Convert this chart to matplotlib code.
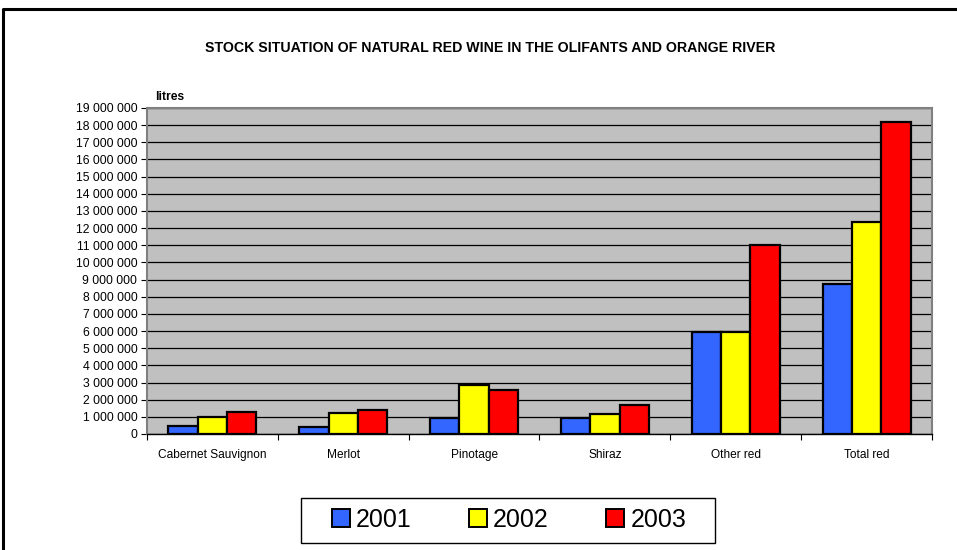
import numpy as np
import matplotlib
matplotlib.use("Agg")
from matplotlib import pyplot as plt
from matplotlib.patches import Rectangle
from matplotlib.lines import Line2D

plt.rcParams["font.family"] = ["Liberation Sans", "DejaVu Sans"]

categories = ["Cabernet Sauvignon", "Merlot", "Pinotage", "Shiraz", "Other red", "Total red"]
years = ["2001", "2002", "2003"]
stock_2001 = [470000, 430000, 930000, 940000, 5950000, 8770000]
stock_2002 = [980000, 1210000, 2880000, 1180000, 5950000, 12370000]
stock_2003 = [1310000, 1410000, 2560000, 1700000, 11030000, 18200000]
bar_colors = ["#3366FF", "#FFFF00", "#FF0000"]

fig = plt.figure(figsize=(9.57, 5.5), dpi=100)
ax = fig.add_axes([147 / 957, 1 - 434 / 550, (932 - 147) / 957, (434 - 108) / 550])
ax.set_facecolor("#C0C0C0")

x = np.arange(len(categories))
width = 0.224
for i, (vals, col) in enumerate(zip([stock_2001, stock_2002, stock_2003], bar_colors)):
    ax.bar(x + (i - 1) * width, vals, width, color=col, edgecolor="black",
           linewidth=1.6, zorder=3, label=years[i])

ax.set_xlim(-0.5, len(categories) - 0.5)
ax.set_ylim(0, 19000000)
yt = np.arange(0, 19000001, 1000000)
ax.set_yticks(yt)
ax.set_yticklabels(["0" if v == 0 else f"{v:,}".replace(",", " ") for v in yt], fontsize=8.8)
ax.yaxis.grid(True, color="black", linewidth=0.9, zorder=1)
ax.set_axisbelow(True)

ax.set_xticks(x)
ax.set_xticklabels(categories, fontsize=8.6)
ax.tick_params(axis="x", length=0, pad=11)
ax.tick_params(axis="y", length=4, width=0.8, pad=3)
ax.set_xticks(np.arange(-0.5, len(categories), 1), minor=True)
ax.tick_params(axis="x", which="minor", length=4, width=0.8, direction="out")

for side in ["top", "right", "left"]:
    ax.spines[side].set_color("#808080")
    ax.spines[side].set_linewidth(1.5)
ax.spines["bottom"].set_color("black")
ax.spines["bottom"].set_linewidth(1.0)

fig.text(490 / 957, 1 - 48 / 550, "STOCK SITUATION OF NATURAL RED WINE IN THE OLIFANTS AND ORANGE RIVER",
         ha="center", va="center", fontsize=10.2, fontweight="bold")
fig.text(155 / 957, 1 - 97 / 550, "litres", ha="left", va="center", fontsize=8.7, fontweight="bold")

handles = [Rectangle((0, 0), 1, 1, facecolor=c, edgecolor="black", linewidth=1.4) for c in bar_colors]
leg = fig.legend(handles, years, loc="center", bbox_to_anchor=(509 / 957, 1 - 520 / 550),
                 ncol=3, fontsize=18, frameon=False,
                 handlelength=0.72, handleheight=0.72, handletextpad=0.24, columnspacing=2.3,
                 borderpad=0.0)

# legend box
fig.add_artist(Rectangle((301 / 957, 1 - 543 / 550), (715 - 301) / 957, 45 / 550,
                         transform=fig.transFigure, facecolor="none", edgecolor="black",
                         linewidth=1.0))

# outer chart frame (cut off at right and bottom)
fig.add_artist(Line2D([3 / 957, 3 / 957, 1.0], [0.0, 1 - 9 / 550, 1 - 9 / 550],
                      transform=fig.transFigure, color="black", linewidth=2.2))

fig.savefig("out.png", dpi=100, facecolor="white")
